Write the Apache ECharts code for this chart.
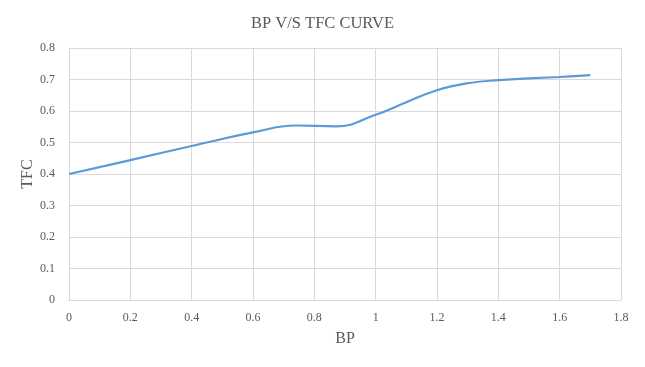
<!DOCTYPE html>
<html><head><meta charset="utf-8">
<script src="https://cdn.jsdelivr.net/npm/echarts@6/dist/echarts.min.js"></script>
<style>html,body{margin:0;padding:0;background:#fff}#c{width:645px;height:367px}</style>
</head><body><div id="c"></div>
<script>
const bp  = [0, 0.2, 0.4, 0.6, 0.74, 0.87, 1.0, 1.1, 1.2, 1.3, 1.4, 1.6, 1.7];
const tfc = [0.4, 0.444, 0.489, 0.532, 0.554, 0.551, 0.588, 0.628, 0.666, 0.688, 0.698, 0.708, 0.714];
const titleText = 'BP V/S TFC CURVE';
const xName = 'BP', yName = 'TFC';
const font = '"Liberation Serif", "DejaVu Serif", serif';
const chart = echarts.init(document.getElementById('c'), null, {renderer:'canvas'});
chart.setOption({
  animation:false,
  title:{text:titleText, left:'center', top:10, textStyle:{fontFamily:font, fontSize:16.5, fontWeight:'normal', color:'#595959'}},
  grid:{left:69, right:24, top:48, bottom:67},
  xAxis:{type:'value', min:0, max:1.8, interval:0.2, name:xName, nameLocation:'middle', nameGap:31,
    nameMoveOverlap:false,
    nameTextStyle:{fontFamily:font, fontSize:16, color:'#595959'},
    axisLine:{lineStyle:{color:'#d9d9d9'}}, axisTick:{show:false},
    axisLabel:{fontFamily:font, fontSize:12, color:'#595959', margin:12},
    splitLine:{show:true, lineStyle:{color:'#d9d9d9'}}},
  yAxis:{type:'value', min:0, max:0.8, interval:0.1, name:yName, nameLocation:'middle', nameGap:33,
    nameMoveOverlap:false,
    nameTextStyle:{fontFamily:font, fontSize:16, color:'#595959'},
    axisLine:{show:false}, axisTick:{show:false},
    axisLabel:{fontFamily:font, fontSize:12, color:'#595959', margin:14},
    splitLine:{show:true, lineStyle:{color:'#d9d9d9'}}},
  series:[{type:'line', data:bp.map((x,i)=>[x,tfc[i]]), smooth:0.45, showSymbol:false,
    lineStyle:{color:'#5B9BD5', width:2.2}}]
});
</script></body></html>
